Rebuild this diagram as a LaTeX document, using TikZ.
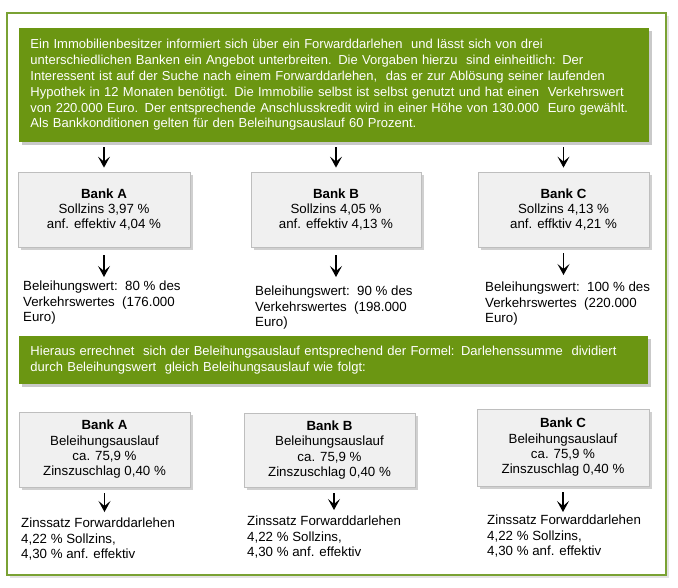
\documentclass[tikz,border=0pt]{standalone}
\usepackage{fontspec}
\setmainfont{Liberation Sans}
\usetikzlibrary{shadows,arrows.meta}
\definecolor{leafgreen}{RGB}{107,150,18}
\definecolor{framegreen}{RGB}{122,162,52}
\definecolor{boxfill}{RGB}{240,240,240}
\definecolor{boxline}{RGB}{190,190,190}
\tikzset{
  basefont/.style={font=\fontsize{13.3}{15.3}\selectfont},
  greenbox/.style={fill=leafgreen, draw=none, text=white, align=left, inner xsep=11.5pt,
     font=\fontsize{13}{15.8}\selectfont,
     drop shadow={shadow xshift=3pt, shadow yshift=-3pt, opacity=0.35, fill=black!60}},
  bankbox/.style={fill=boxfill, draw=boxline, line width=0.8pt, align=center, basefont,
     drop shadow={shadow xshift=2.5pt, shadow yshift=-2.5pt, opacity=0.3, fill=black!60}},
  plain/.style={anchor=north west, inner sep=0pt, align=left, basefont},
  arr/.style={-{Stealth[length=11pt,width=12pt,inset=5pt]}, line width=1.1pt, black}
}
\begin{document}
\begin{tikzpicture}[x=1pt,y=-1pt]
\useasboundingbox (0,0) rectangle (678,587);
\fill[white] (0,0) rectangle (678,587);
\draw[framegreen, line width=1.2pt, fill=white,
  drop shadow={shadow xshift=3pt, shadow yshift=-3pt, opacity=0.18, fill=black!60}] (7,13) rectangle (666,575);

\node[greenbox, text width=607pt, minimum height=114pt] (intro) at (334,85)
{Ein Immobilienbesitzer informiert sich über ein Forwarddarlehen\ \ und lässt sich von drei\\
unterschiedlichen Banken ein Angebot unterbreiten. Die Vorgaben hierzu\ \ sind einheitlich: Der\\
Interessent ist auf der Suche nach einem Forwarddarlehen,\ \ das er zur Ablösung seiner laufenden\\
Hypothek in 12 Monaten benötigt. Die Immobilie selbst ist selbst genutzt und hat einen\ \ Verkehrswert\\
von 220.000 Euro. Der entsprechende Anschlusskredit wird in einer Höhe von 130.000\ \ Euro gewählt.\\
Als Bankkonditionen gelten für den Beleihungsauslauf 60 Prozent.};

\node[bankbox, minimum width=172pt, minimum height=75pt] (bA) at (104,209.5)
{\textbf{Bank A}\\Sollzins 3,97 \%\\anf. effektiv 4,04 \%};
\node[bankbox, minimum width=170pt, minimum height=75pt] (bB) at (336,209.5)
{\textbf{Bank B}\\Sollzins 4,05 \%\\anf. effektiv 4,13 \%};
\node[bankbox, minimum width=171pt, minimum height=75pt] (bC) at (563.5,209.5)
{\textbf{Bank C}\\Sollzins 4,13 \%\\anf. effktiv 4,21 \%};

\node[plain] (wA) at (23,281) {Beleihungswert:\ \ 80 \% des\\Verkehrswertes\ \ (176.000\\Euro)};
\node[plain] (wB) at (255,286) {Beleihungswert:\ \ 90 \% des\\Verkehrswertes\ \ (198.000\\Euro)};
\node[plain] (wC) at (485,282) {Beleihungswert:\ \ 100 \% des\\Verkehrswertes\ \ (220.000\\Euro)};

\draw[arr, shorten <=5pt, shorten >=4pt] (intro.south -| bA.north) -- (bA.north);
\draw[arr, shorten <=5pt, shorten >=4pt] (intro.south -| bB.north) -- (bB.north);
\draw[arr, shorten <=5pt, shorten >=4pt] (intro.south -| bC.north) -- (bC.north);
\draw[arr, shorten <=8pt, shorten >=4pt] (bA.south) -- (bA.south |- wA.north);
\draw[arr, shorten <=8pt, shorten >=9pt] (bB.south) -- (bB.south |- wB.north);
\draw[arr, shorten <=6pt, shorten >=7pt] (bC.south) -- (bC.south |- wC.north);

\node[greenbox, text width=606pt, minimum height=48pt] (calc) at (333.5,360)
{Hieraus errechnet\ \ sich der Beleihungsauslauf entsprechend der Formel: Darlehenssumme\ \ dividiert\\
durch Beleihungswert\ \ gleich Beleihungsauslauf wie folgt:};

\node[bankbox, minimum width=171pt, minimum height=75pt] (lA) at (104.5,449.5)
{\textbf{Bank A}\\Beleihungsauslauf\\ca. 75,9 \%\\Zinszuschlag 0,40 \%};
\node[bankbox, minimum width=171pt, minimum height=74pt] (lB) at (329.5,450)
{\textbf{Bank B}\\Beleihungsauslauf\\ca. 75,9 \%\\Zinszuschlag 0,40 \%};
\node[bankbox, minimum width=172pt, minimum height=77pt] (lC) at (563,447.5)
{\textbf{Bank C}\\Beleihungsauslauf\\ca. 75,9 \%\\Zinszuschlag 0,40 \%};

\node[plain] (zA) at (21,518) {Zinssatz Forwarddarlehen\\4,22 \% Sollzins,\\4,30 \% anf. effektiv};
\node[plain] (zB) at (247,516) {Zinssatz Forwarddarlehen\\4,22 \% Sollzins,\\4,30 \% anf. effektiv};
\node[plain] (zC) at (487,515) {Zinssatz Forwarddarlehen\\4,22 \% Sollzins,\\4,30 \% anf. effektiv};

\draw[arr, shorten <=6pt, shorten >=6pt] (lA.south) -- (lA.south |- zA.north);
\draw[arr, shorten <=6pt, shorten >=6pt] ([xshift=4.5pt]lB.south) -- ([xshift=4.5pt]lB.south |- zB.north);
\draw[arr, shorten <=6pt, shorten >=3pt] (lC.south) -- (lC.south |- zC.north);
\end{tikzpicture}
\end{document}
